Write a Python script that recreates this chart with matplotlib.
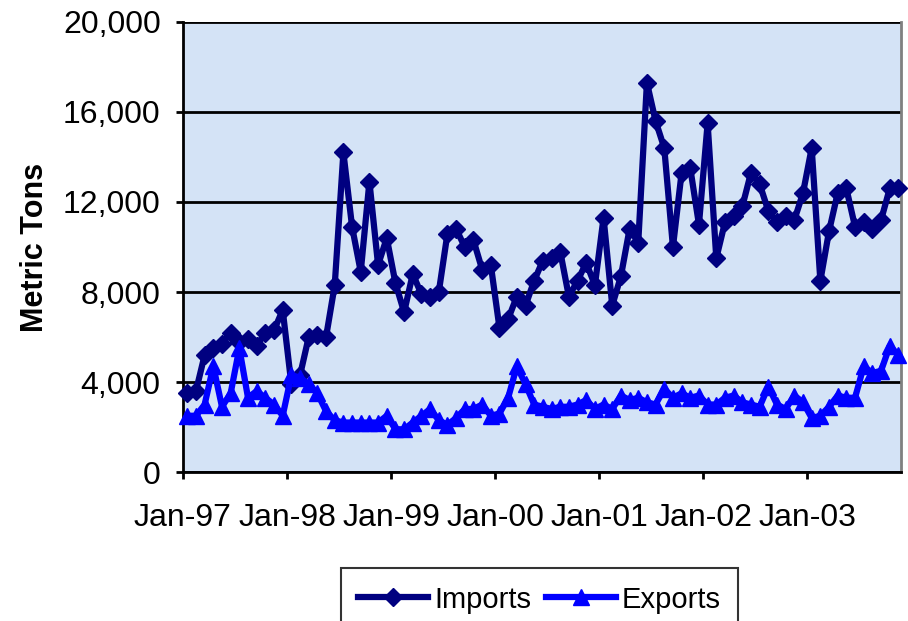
import numpy as np
import matplotlib
matplotlib.use("Agg")
import matplotlib.pyplot as plt
from matplotlib.ticker import FuncFormatter

plt.rcParams['font.family'] = ['Liberation Sans', 'DejaVu Sans']

# monthly values, Jan-97 .. Nov-03 (metric tons)
imports = [3500, 3600, 5200, 5500, 5700, 6200, 5800, 5900, 5600, 6200, 6300, 7200,
           3900, 4300, 6000, 6100, 6000, 8300, 14200, 10900, 8900, 12900, 9200, 10400,
           8400, 7100, 8800, 7900, 7800, 8000, 10600, 10800, 10000, 10300, 9000, 9200,
           6400, 6800, 7800, 7400, 8500, 9400, 9500, 9800, 7800, 8500, 9300, 8300,
           11300, 7400, 8700, 10800, 10200, 17300, 15600, 14400, 10000, 13300, 13500, 11000,
           15500, 9500, 11100, 11400, 11800, 13300, 12800, 11600, 11100, 11400, 11200, 12400,
           14400, 8500, 10700, 12400, 12600, 10900, 11100, 10800, 11200, 12600, 12600]
exports = [2500, 2500, 3000, 4700, 2900, 3500, 5500, 3300, 3600, 3300, 3000, 2500,
           4300, 4200, 3900, 3500, 2700, 2300, 2200, 2200, 2200, 2200, 2200, 2500,
           1900, 1900, 2200, 2500, 2800, 2300, 2100, 2400, 2800, 2800, 3000, 2500,
           2600, 3300, 4700, 3900, 3000, 2900, 2800, 2900, 2900, 3000, 3200, 2800,
           3000, 2800, 3400, 3200, 3300, 3100, 3000, 3700, 3300, 3500, 3300, 3400,
           3000, 3000, 3300, 3400, 3100, 3000, 2900, 3800, 3000, 2800, 3400, 3100,
           2400, 2500, 2900, 3400, 3300, 3300, 4700, 4400, 4500, 5600, 5200]
tick_labels = ["Jan-97", "Jan-98", "Jan-99", "Jan-00", "Jan-01", "Jan-02", "Jan-03"]

months = np.arange(len(imports)) + 0.5

fig = plt.figure(figsize=(9.08, 6.21), dpi=100)
ax = fig.add_axes([0.2015, 0.2399, 0.7908, 0.7247])
ax.set_facecolor("#d4e3f6")

ax.plot(months, imports, color="#000080", linewidth=4.5, marker="D", markersize=9.5,
        label="Imports", zorder=3, clip_on=False)
ax.plot(months, exports, color="#0000ff", linewidth=4.5, marker="^", markersize=11,
        label="Exports", zorder=3, clip_on=False)

ax.set_xlim(0, 82.8)
ax.set_ylim(0, 20000)
ax.set_yticks(np.arange(0, 20001, 4000))
ax.yaxis.set_major_formatter(FuncFormatter(lambda v, p: "{:,.0f}".format(v)))
ax.set_xticks(np.arange(0, 73, 12))
ax.set_xticklabels(tick_labels)
ax.grid(axis="y", color="black", linewidth=2)
ax.set_axisbelow(True)

ax.tick_params(axis="both", labelsize=23, direction="out", length=5, width=2, color="black")
ax.tick_params(axis="x", pad=17)
ax.tick_params(axis="y", pad=11)
for s in ["left", "bottom"]:
    ax.spines[s].set_linewidth(2)
    ax.spines[s].set_color("black")
ax.spines["right"].set_color("#808080")
ax.spines["right"].set_linewidth(2)
ax.spines["top"].set_visible(False)

ax.set_ylabel("Metric Tons", fontsize=22, fontweight="bold")
ax.yaxis.set_label_coords(-0.185, 0.5)

leg = fig.legend(loc="upper center", bbox_to_anchor=(0.594, 0.0853), ncol=2, fontsize=21,
                 frameon=True, fancybox=False, edgecolor="black", handlelength=2.4,
                 handletextpad=0.2, columnspacing=0.5, borderpad=0.6, borderaxespad=0)
leg.get_frame().set_linewidth(1.5)

fig.savefig("out.png", dpi=100)
